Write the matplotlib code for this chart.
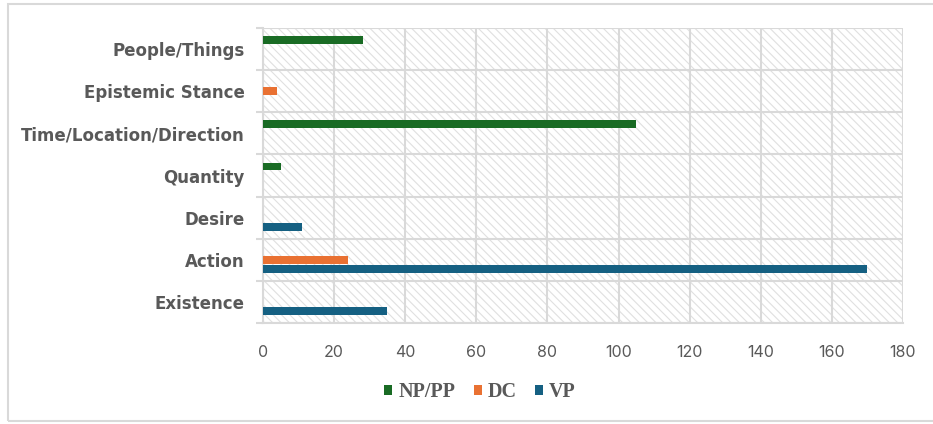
import matplotlib
matplotlib.use("Agg")
import matplotlib.pyplot as plt
import numpy as np
from matplotlib.patches import Rectangle

# Categories, listed from bottom to top of the chart
categories = ["Existence", "Action", "Desire", "Quantity",
              "Time/Location/Direction", "Epistemic Stance", "People/Things"]

series_names = ["NP/PP", "DC", "VP"]
np_pp = [0, 0, 0, 5, 105, 0, 28]
dc = [0, 24, 0, 0, 0, 4, 0]
vp = [35, 170, 11, 0, 0, 0, 0]
x_ticks = [0, 20, 40, 60, 80, 100, 120, 140, 160, 180]

colors = {"NP/PP": "#196B24", "DC": "#E97132", "VP": "#156082"}
grid_c = "#D9D9D9"
text_c = "#595959"

W, H, DPI = 933, 424, 100
plt.rcParams["hatch.linewidth"] = 0.8
fig = plt.figure(figsize=(W / DPI, H / DPI), dpi=DPI)

# Outer chart-area frame
fig.patches.append(Rectangle((8 / W, 1 - 421 / H), (940 - 8) / W, (421 - 4) / H,
                             transform=fig.transFigure, facecolor="none",
                             edgecolor=grid_c, linewidth=1.5))

ax = fig.add_axes([263 / W, 1 - 323 / H, (903 - 263) / W, (323 - 28) / H])

# Hatched plot background
ax.patch.set_facecolor("white")
bg = Rectangle((0, 0), 1, 1, transform=ax.transAxes, facecolor="white",
               edgecolor="#E0E0E0", hatch="\\\\\\\\", linewidth=0, zorder=0)
ax.add_patch(bg)

y = np.arange(len(categories))
h = 9 / 42
series = [np_pp, dc, vp]
offsets = [h, 0, -h]
for name, vals, off in zip(series_names, series, offsets):
    ax.barh(y + off, vals, height=h * 0.85, color=colors[name],
            label=name, zorder=3, linewidth=0)

ax.set_xlim(0, 180)
ax.set_ylim(-0.5, len(categories) - 0.5)
ax.set_xticks(x_ticks)
ax.set_xticklabels([str(t) for t in x_ticks])
ax.set_yticks(y)
ax.set_yticklabels(categories)
ax.set_yticks(np.arange(-0.5, len(categories)), minor=True)

ax.grid(axis="x", which="major", color=grid_c, linewidth=1.5, zorder=1)
ax.grid(axis="y", which="minor", color=grid_c, linewidth=1.5, zorder=1)
ax.grid(axis="y", which="major", visible=False)
ax.set_axisbelow(True)

for s in ax.spines.values():
    s.set_color(grid_c)
    s.set_linewidth(1.5)
ax.spines["right"].set_visible(False)
ax.spines["top"].set_visible(False)

ax.tick_params(axis="x", which="both", length=0, pad=16,
               labelsize=11.5, labelcolor=text_c)
ax.tick_params(axis="y", which="major", length=0, pad=13,
               labelsize=12, labelcolor=text_c)
ax.tick_params(axis="y", which="minor", length=5, width=1.5, color=grid_c)

for lbl in ax.get_xticklabels():
    lbl.set_fontfamily("Inter")
for lbl in ax.get_yticklabels():
    lbl.set_fontfamily("DejaVu Sans")
    lbl.set_fontweight("bold")

handles, labels = ax.get_legend_handles_labels()
leg = fig.legend(handles, labels, loc="center", ncol=3,
                 bbox_to_anchor=(480 / W, 1 - 392 / H), frameon=False,
                 handlelength=0.4, handleheight=0.4, handletextpad=0.3,
                 columnspacing=0.9,
                 prop={"family": "Liberation Serif", "weight": "bold", "size": 14.5})
for t in leg.get_texts():
    t.set_color(text_c)

fig.savefig("out.png", dpi=DPI, facecolor="white")
